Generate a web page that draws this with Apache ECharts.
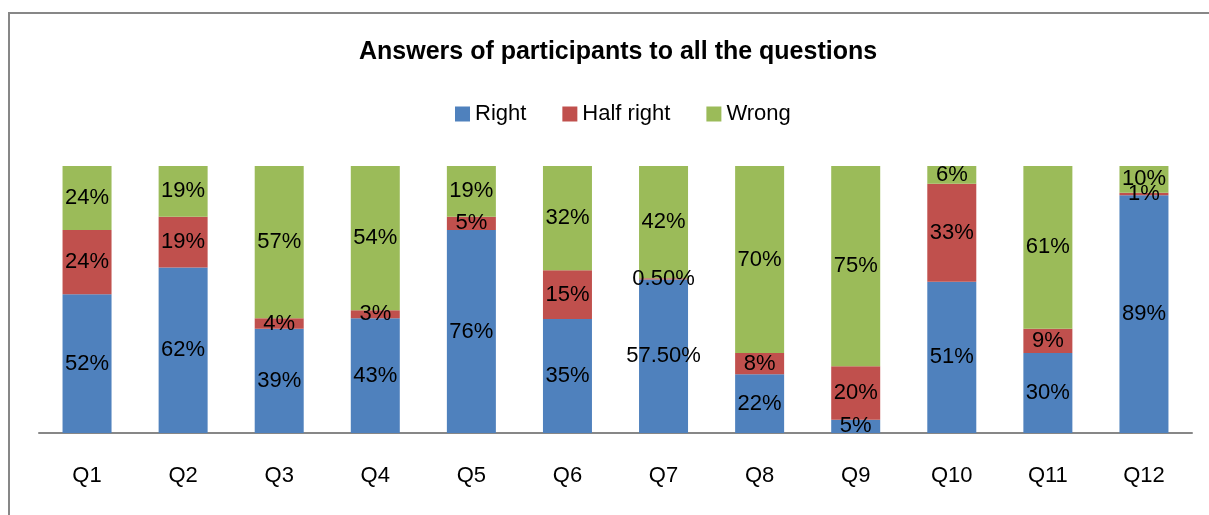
<!DOCTYPE html>
<html>
<head>
<meta charset="utf-8">
<script src="https://cdn.jsdelivr.net/npm/echarts@6/dist/echarts.min.js"></script>
<style>
  html, body { margin: 0; padding: 0; background: #fff; }
  #chart { width: 1209px; height: 515px; }
</style>
</head>
<body>
<div id="chart"></div>
<script>
const questions = ["Q1", "Q2", "Q3", "Q4", "Q5", "Q6", "Q7", "Q8", "Q9", "Q10", "Q11", "Q12"];
const rightVals = [52, 62, 39, 43, 76, 35, 57.5, 22, 5, 51, 30, 89];
const halfVals = [24, 19, 4, 3, 5, 15, 0.5, 8, 20, 33, 9, 1];
const wrongVals = [24, 19, 57, 54, 19, 32, 42, 70, 75, 6, 61, 10];

// 100% stacked: each bar is scaled to its own total
const totals = questions.map((q, i) => rightVals[i] + halfVals[i] + wrongVals[i]);

function fmt(v) {
  return Number.isInteger(v) ? v + "%" : v.toFixed(2) + "%";
}

function makeSeries(name, vals, color) {
  return {
    name: name,
    type: "bar",
    stack: "all",
    barWidth: "51%",
    itemStyle: { color: color },
    label: {
      show: true,
      position: "inside",
      color: "#000",
      fontFamily: "Liberation Sans",
      fontSize: 22,
      formatter: (p) => fmt(vals[p.dataIndex]),
    },
    data: vals.map((v, i) => (v / totals[i]) * 100),
  };
}

const chart = echarts.init(document.getElementById("chart"));
chart.setOption({
  animation: false,
  title: {
    text: "Answers of participants to all the questions",
    left: 354,
    top: 35,
    textStyle: { fontFamily: "Liberation Sans", fontWeight: "bold", fontSize: 25, color: "#000" },
  },
  legend: {
    top: 98,
    left: 450,
    itemWidth: 15,
    itemHeight: 15,
    itemGap: 36,
    icon: "rect",
    textStyle: { fontFamily: "Liberation Sans", fontSize: 22, color: "#000" },
  },
  grid: { left: 39, right: 17, top: 166, bottom: 82 },
  xAxis: {
    type: "category",
    data: questions,
    axisTick: { show: false },
    axisLine: { lineStyle: { color: "#878787", width: 2 } },
    axisLabel: { margin: 32, fontFamily: "Liberation Sans", fontSize: 22, color: "#000" },
  },
  yAxis: {
    type: "value",
    min: 0,
    max: 100,
    show: false,
    splitLine: { show: false },
  },
  graphic: [
    {
      type: "rect",
      shape: { x: 9, y: 13, width: 1300, height: 600 },
      style: { fill: "none", stroke: "#878787", lineWidth: 2 },
      silent: true,
    },
  ],
  series: [
    makeSeries("Right", rightVals, "#4F81BD"),
    makeSeries("Half right", halfVals, "#C0504D"),
    makeSeries("Wrong", wrongVals, "#9BBB59"),
  ],
});
</script>
</body>
</html>
